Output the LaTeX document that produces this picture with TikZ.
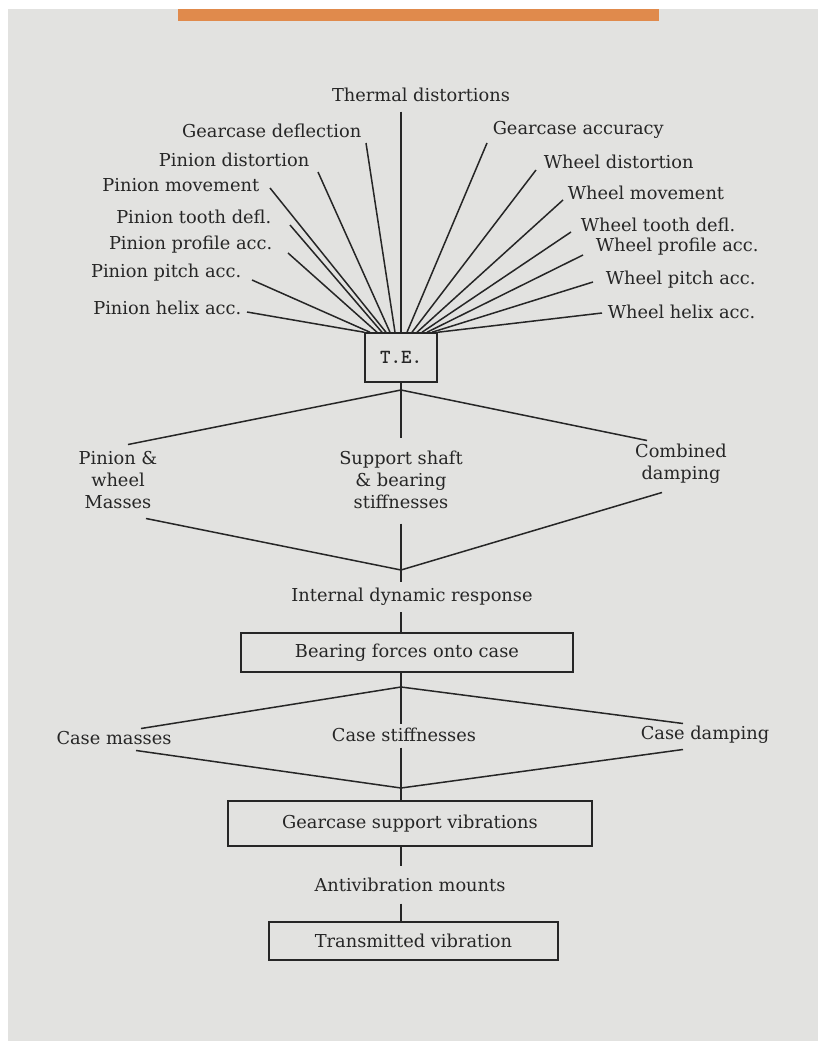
\documentclass[tikz,border=0pt]{standalone}
\usepackage{fontspec}
\setmainfont{DejaVu Serif}
\usepackage{tikz}
\usetikzlibrary{positioning}
\definecolor{paper}{HTML}{E2E2E0}
\definecolor{ink}{HTML}{262626}
\definecolor{stripe}{HTML}{E08A4C}

\begin{document}
\begin{tikzpicture}[x=1pt, y=-1pt, line width=1.5pt, draw=ink,
    lbl/.style={text=ink, inner sep=0pt, font=\fontsize{17.8}{22}\selectfont},
    box/.style={draw, text=ink, font=\fontsize{17.8}{22}\selectfont}]

    \useasboundingbox (0,0) rectangle (818,1041);
    \fill[white] (0,0) rectangle (818,1041);
    \fill[paper] (8,9) rectangle (818,1041);
    \fill[stripe] (178,9) rectangle (659,21);

    % the fan of error sources
    \node at (421,95) (thermal) [lbl] {Thermal distortions};
    \node at (362,131) (gcdefl) [lbl, anchor=east] {Gearcase deflection};
    \node at (310,160) (pdist) [lbl, anchor=east] {Pinion distortion};
    \node at (260,185) (pmove) [lbl, anchor=east] {Pinion movement};
    \node at (272,217) (ptooth) [lbl, anchor=east] {Pinion tooth defl.};
    \node at (273,245) (pprof) [lbl, anchor=east] {Pinion profile acc.};
    \node at (242,273) (ppitch) [lbl, anchor=east] {Pinion pitch acc.};
    \node at (242,308) (phelix) [lbl, anchor=east] {Pinion helix acc.};

    \node at (492,130) (gcacc) [lbl, anchor=west] {Gearcase accuracy};
    \node at (543,162) (wdist) [lbl, anchor=west] {Wheel distortion};
    \node at (567,193) (wmove) [lbl, anchor=west] {Wheel movement};
    \node at (580,225) (wtooth) [lbl, anchor=west] {Wheel tooth defl.};
    \node at (595,247) (wprof) [lbl, anchor=west] {Wheel profile acc.};
    \node at (605,280) (wpitch) [lbl, anchor=west] {Wheel pitch acc.};
    \node at (607,312) (whelix) [lbl, anchor=west] {Wheel helix acc.};

    \node at (401,357.5) (TE) [box, minimum width=72pt, minimum height=49pt, font=\ttfamily\bfseries\fontsize{20}{22}\selectfont] {T.E.};

    \path[draw] ([yshift=-9pt]thermal.south -| TE.north) -- (TE.north);
    \path[draw] ([shift={(4pt,-12pt)}]gcdefl.east) -- ([xshift=-6pt]TE.north);
    \path[draw] ([shift={(8pt,-12pt)}]pdist.east) -- ([xshift=-11pt]TE.north);
    \path[draw] ([shift={(10pt,-3pt)}]pmove.east) -- ([xshift=-15pt]TE.north);
    \path[draw] ([shift={(18pt,-8pt)}]ptooth.east) -- ([xshift=-19pt]TE.north);
    \path[draw] ([shift={(15pt,-8pt)}]pprof.east) -- ([xshift=-24pt]TE.north);
    \path[draw] ([shift={(10pt,-7pt)}]ppitch.east) -- ([xshift=-31pt]TE.north);
    \path[draw] ([shift={(5pt,-4pt)}]phelix.east) -- (TE.north west);

    \path[draw] ([shift={(-5pt,-13pt)}]gcacc.west) -- ([xshift=6pt]TE.north);
    \path[draw] ([shift={(-7pt,-8pt)}]wdist.west) -- ([xshift=11pt]TE.north);
    \path[draw] ([shift={(-4pt,-7pt)}]wmove.west) -- ([xshift=16pt]TE.north);
    \path[draw] ([shift={(-9pt,-7pt)}]wtooth.west) -- ([xshift=21pt]TE.north);
    \path[draw] ([shift={(-12pt,-8pt)}]wprof.west) -- ([xshift=26pt]TE.north);
    \path[draw] ([shift={(-12pt,-2pt)}]wpitch.west) -- ([xshift=31pt]TE.north);
    \path[draw] ([shift={(-5pt,-1pt)}]whelix.west) -- (TE.north east);

    % internal dynamics
    \node at (118,480) (masses) [lbl, align=center] {Pinion \&\\wheel\\Masses};
    \node at (401,480) (stiff) [lbl, align=center] {Support shaft\\\& bearing\\stiffnesses};
    \node at (681,464) (damping) [lbl, align=center] {Combined\\damping};
    \node at (412,597) (idr) [lbl] {Internal dynamic response};
    \node at (407,652.5) (bearing) [box, minimum width=332pt, minimum height=39pt] {Bearing forces onto case};

    \coordinate (J1) at (401,390);
    \coordinate (J2) at (401,570);

    \path[draw] (TE.south) -- ([yshift=12pt]stiff.north);
    \path[draw] (J1) -- ([shift={(10pt,6pt)}]masses.north);
    \path[draw] (J1) -- ([shift={(-34pt,3pt)}]damping.north);
    \path[draw] ([shift={(28pt,-9pt)}]masses.south) -- (J2) -- ([shift={(-19pt,-8pt)}]damping.south);
    \path[draw] ([yshift=-14pt]stiff.south) -- ([yshift=6pt]idr.north -| J2);
    \path[draw] ([yshift=-6pt]idr.south -| J2) -- (bearing.north -| J2);

    % case response
    \node at (114,738) (cmass) [lbl] {Case masses};
    \node at (404,735) (cstiff) [lbl] {Case stiffnesses};
    \node at (705,735) (cdamp) [lbl] {Case damping};
    \node at (410,823.5) (gsv) [box, minimum width=364pt, minimum height=45pt] {Gearcase support vibrations};
    \node at (410,885) (avm) [lbl] {Antivibration mounts};
    \node at (413.5,941) (tv) [box, minimum width=289pt, minimum height=38pt] {Transmitted vibration};

    \coordinate (J3) at (401,687);
    \coordinate (J4) at (401,788);

    \path[draw] (bearing.south -| J3) -- ([yshift=3pt]cstiff.north -| J3);
    \path[draw] (J3) -- ([shift={(27pt,2pt)}]cmass.north);
    \path[draw] (J3) -- ([shift={(-22pt,2pt)}]cdamp.north);
    \path[draw] ([shift={(22pt,-5pt)}]cmass.south) -- (J4) -- ([shift={(-22pt,-5pt)}]cdamp.south);
    \path[draw] ([yshift=-5pt]cstiff.south -| J4) -- (gsv.north -| J4);
    \path[draw] (gsv.south -| J4) -- ([yshift=11pt]avm.north -| J4);
    \path[draw] ([yshift=-11pt]avm.south -| J4) -- (tv.north -| J4);

\end{tikzpicture}
\end{document}
